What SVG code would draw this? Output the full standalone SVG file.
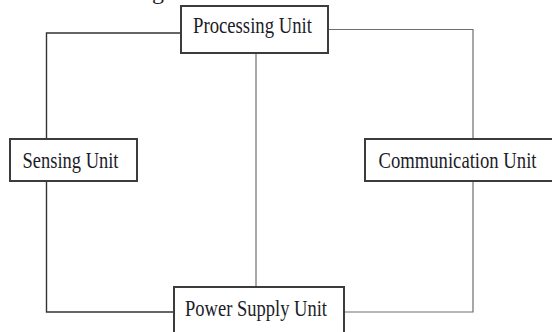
<svg xmlns="http://www.w3.org/2000/svg" width="552" height="332" viewBox="0 0 552 332">
  <style>
    .box { fill: #ffffff; stroke: #3c3c3c; stroke-width: 2; }
    .label { font-family: "Liberation Serif", "Times New Roman", serif; font-size: 24px; fill: #1c1c28; }
    .wire { fill: none; stroke: #333333; stroke-width: 1.4; }
    .wire-light { fill: none; stroke: #6e6e6e; stroke-width: 1.2; }
  </style>
  <rect width="552" height="332" fill="#ffffff"/>

  <!-- tail of the caption line above the frame -->
  <text class="label" x="152" y="-1">g</text>

  <!-- wiring between the units -->
  <g id="connectors">
    <polyline class="wire" points="181,33 46.5,33 46.5,139"/>
    <polyline class="wire" points="46.5,181 46.5,312 174,312"/>
    <polyline class="wire-light" points="328,29.5 473,29.5 473,139"/>
    <polyline class="wire-light" points="473,181 473,312 344,312"/>
    <line class="wire-light" x1="256" y1="53" x2="256" y2="287"/>
  </g>

  <g id="processing-unit">
    <rect class="box" x="181" y="6" width="147" height="47"/>
    <text class="label" x="193" y="33" textLength="119" lengthAdjust="spacingAndGlyphs">Processing Unit</text>
  </g>

  <g id="sensing-unit">
    <rect class="box" x="10" y="139" width="127" height="42"/>
    <text class="label" x="22.5" y="167.5" textLength="96" lengthAdjust="spacingAndGlyphs">Sensing Unit</text>
  </g>

  <g id="communication-unit">
    <rect class="box" x="365" y="139" width="200" height="42"/>
    <text class="label" x="378.5" y="167.5" textLength="158" lengthAdjust="spacingAndGlyphs">Communication Unit</text>
  </g>

  <g id="power-supply-unit">
    <rect class="box" x="174" y="287" width="170" height="60"/>
    <text class="label" x="185" y="315.5" textLength="142" lengthAdjust="spacingAndGlyphs">Power Supply Unit</text>
  </g>
</svg>
